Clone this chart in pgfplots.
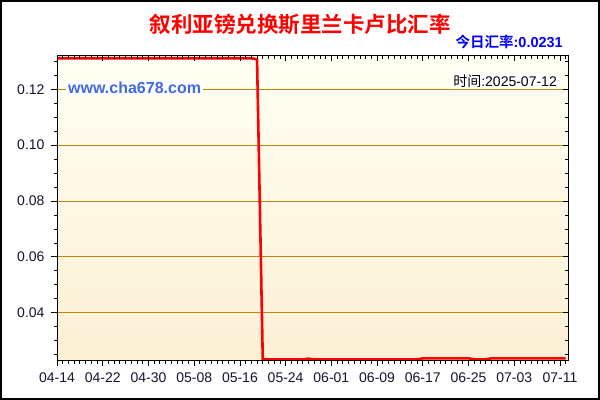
\documentclass[border=0pt]{standalone}
\usepackage{pgfplots}
\pgfplotsset{compat=1.18}
\usepackage{fontspec}
\setmainfont{Liberation Sans}
\newfontfamily\cjk[BoldFont={Noto Sans CJK SC Bold}]{Noto Sans CJK SC}

\definecolor{titlered}{RGB}{255,0,0}
\definecolor{rateblue}{RGB}{0,0,255}
\definecolor{siteblue}{RGB}{65,105,225}
\definecolor{gridc}{RGB}{184,134,11}
\definecolor{bgtop}{RGB}{255,255,243}
\definecolor{bgbot}{RGB}{252,240,213}
\definecolor{labc}{RGB}{20,20,50}

\pgfplotsset{
  rateaxis/.style={
    at={(57bp,40bp)}, anchor=south west,
    scale only axis, width=511bp, height=304bp,
    xmin=0, xmax=89.4, ymin=0.0231, ymax=0.1319,
    xtick={0,8,...,88},
    minor xtick={0,1,...,89},
    ytick={0.04,0.06,0.08,0.10,0.12},
    minor ytick={0.025,0.03,0.035,0.045,0.05,0.055,0.065,0.07,0.075,0.085,0.09,0.095,0.105,0.11,0.115,0.125,0.13},
    tick style={black, line width=0.8bp},
  }
}

\begin{document}
\begin{tikzpicture}
\useasboundingbox (0,0) rectangle (600bp,400bp);
\fill[white] (0,0) rectangle (600bp,400bp);

\begin{axis}[
  rateaxis,
  axis background/.style={top color=bgtop, bottom color=bgbot},
  axis line style={black, line width=1bp},
  tick align=outside, xtick pos=lower, ytick pos=left,
  major tick length=6bp, minor tick length=3.5bp,
  ymajorgrids, grid style={gridc, line width=1bp},
  xticklabels={04-14,04-22,04-30,05-08,05-16,05-24,06-01,06-09,06-17,06-25,07-03,07-11},
  /pgf/number format/assume math mode=true,
  yticklabel style={/pgf/number format/fixed, /pgf/number format/fixed zerofill, /pgf/number format/precision=2, xshift=-3bp},
  xticklabel style={yshift=-3bp},
  ticklabel style={font=\fontsize{14bp}{16bp}\selectfont, text=labc},
]
\addplot[red, line width=2.6bp, line join=round] coordinates {
(0,0.1311)(1,0.1311)(2,0.1311)(3,0.1311)(4,0.1311)(5,0.1311)(6,0.1311)(7,0.1311)
(8,0.1311)(9,0.1311)(10,0.1311)(11,0.1311)(12,0.1311)(13,0.1311)(14,0.1311)(15,0.1311)
(16,0.1311)(17,0.1311)(18,0.1311)(19,0.1311)(20,0.1311)(21,0.1311)(22,0.1311)(23,0.1311)
(24,0.1311)(25,0.1311)(26,0.1311)(27,0.1311)(28,0.1311)(29,0.1311)(30,0.1311)(31,0.1311)
(32,0.1311)(33,0.1311)(34,0.1311)(35,0.1307)
(36,0.0233)(37,0.0233)(38,0.0233)(39,0.0233)(40,0.0233)(41,0.0233)(42,0.0233)(43,0.0233)
(44,0.0236)(45,0.0233)(46,0.0233)(47,0.0233)(48,0.0233)(49,0.0233)(50,0.0233)(51,0.0233)
(52,0.0233)(53,0.0233)(54,0.0233)(55,0.0233)(56,0.0233)(57,0.0233)(58,0.0233)(59,0.0233)
(60,0.0233)(61,0.0233)(62,0.0233)(63,0.0233)
(64,0.0237)(65,0.0237)(66,0.0237)(67,0.0237)(68,0.0237)(69,0.0237)(70,0.0237)(71,0.0237)(72,0.0237)
(73,0.0233)(74,0.0233)(75,0.0233)
(76,0.0237)(77,0.0237)(78,0.0237)(79,0.0237)(80,0.0237)(81,0.0237)(82,0.0237)(83,0.0237)
(84,0.0237)(85,0.0237)(86,0.0237)(87,0.0237)(88,0.0237)(89,0.0237)
};
\end{axis}

% mirrored ticks on top and right point inwards
\begin{axis}[
  rateaxis,
  axis line style={draw=none},
  tick align=inside, xtick pos=upper, ytick pos=right,
  major tick length=5bp, minor tick length=3bp,
  xticklabels={}, yticklabels={},
]
\end{axis}

\node[text=titlered, font=\cjk\bfseries\fontsize{21.5bp}{25bp}\selectfont] at (300bp,376bp) {叙利亚镑兑换斯里兰卡卢比汇率};
\node[anchor=east, text=rateblue, font=\bfseries\fontsize{14.5bp}{17bp}\selectfont, inner sep=0pt] at (563bp,358bp) {{\cjk 今日汇率}:0.0231};
\node[anchor=west, fill=white, text=siteblue, font=\bfseries\fontsize{16bp}{18bp}\selectfont, inner sep=2bp] at (66bp,312bp) {www.cha678.com};
\node[anchor=east, fill=white, text=black, font=\fontsize{14bp}{16bp}\selectfont, inner sep=2bp] at (559bp,319bp) {{\cjk 时间}:2025-07-12};

\draw[black, line width=2bp] (1bp,1bp) rectangle (599bp,399bp);
\end{tikzpicture}
\end{document}
